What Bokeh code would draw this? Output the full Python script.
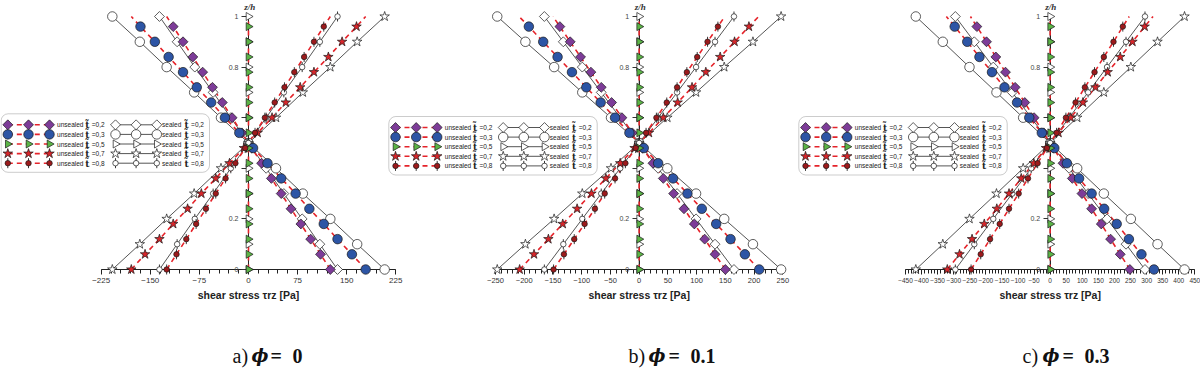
import math
from bokeh.plotting import figure
from bokeh.models import (Range1d, LinearAxis, SingleIntervalTicker, FixedTicker,
                          BoxAnnotation)
from bokeh.embed import file_html
from bokeh.resources import INLINE
from bokeh.core.properties import value

# ---------------- data ----------------
T_LABELS = ["0,2", "0,3", "0,5", "0,7", "0,8"]
Z_UNSEALED = [0.00, 0.06, 0.12, 0.18, 0.24, 0.30, 0.36, 0.42, 0.48, 0.54,
              0.60, 0.66, 0.72, 0.78, 0.84, 0.90, 0.96]
Z_SEALED = [0.0, 0.1, 0.2, 0.3, 0.4, 0.5, 0.6, 0.7, 0.8, 0.9, 1.0]

# phi = 0
A_U02 = [125, 110, 95, 80, 65, 50, 35, 20, 5, -10, -25, -40, -55, -70, -85, -100, -115]
A_U03 = [179, 158, 136, 115, 93, 72, 50, 29, 7, -14, -36, -57, -79, -100, -122, -143, -165]
A_U05 = [0, 0, 0, 0, 0, 0, 0, 0, 0, 0, 0, 0, 0, 0, 0, 0, 0]
A_U07 = [-179, -158, -136, -115, -93, -72, -50, -29, -7, 14, 36, 57, 79, 100, 122, 143, 165]
A_U08 = [-125, -110, -95, -80, -65, -50, -35, -20, -5, 10, 25, 40, 55, 70, 85, 100, 115]
A_UTOP = [-125, -179, 0, 179, 125]          # dashed lines at z/h = 1
A_S02 = [136, 109, 82, 54, 27, 0, -27, -54, -82, -109, -136]
A_S03 = [208, 166, 125, 83, 42, 0, -42, -83, -125, -166, -208]
A_S05 = [0, 0, 0, 0, 0, 0, 0, 0, 0, 0, 0]
A_S07 = [-208, -166, -125, -83, -42, 0, 42, 83, 125, 166, 208]
A_S08 = [-136, -109, -82, -54, -27, 0, 27, 54, 82, 109, 136]

# phi = 0.1
B_U02 = [150, 132, 114, 96, 78, 60, 42, 24, 6, -12, -30, -48, -66, -84, -102, -120, -138]
B_U03 = [209, 184, 159, 134, 109, 84, 59, 33, 8, -17, -42, -67, -92, -117, -142, -167, -192]
B_U05 = [0, 0, 0, 0, 0, 0, 0, 0, 0, 0, 0, 0, 0, 0, 0, 0, 0]
B_U07 = [-208, -183, -158, -133, -108, -83, -58, -33, -8, 17, 42, 67, 92, 116, 141, 166, 191]
B_U08 = [-149, -131, -113, -95, -77, -60, -42, -24, -6, 12, 30, 48, 66, 83, 101, 119, 137]
B_UTOP = [-150, -209, 0, 208, 149]
B_S02 = [165, 132, 99, 66, 33, 0, -33, -66, -99, -132, -165]
B_S03 = [247, 198, 148, 99, 49, 0, -49, -99, -148, -198, -247]
B_S05 = [0, 0, 0, 0, 0, 0, 0, 0, 0, 0, 0]
B_S07 = [-247, -198, -148, -99, -49, 0, 49, 99, 148, 198, 247]
B_S08 = [-165, -132, -99, -66, -33, 0, 33, 66, 99, 132, 165]

# phi = 0.3
C_U02 = [248, 218, 188, 159, 129, 99, 69, 40, 10, -20, -50, -79, -109, -139, -169, -198, -228]
C_U03 = [323, 284, 245, 207, 168, 129, 90, 52, 13, -26, -65, -103, -142, -181, -220, -258, -297]
C_U05 = [0, 0, 0, 0, 0, 0, 0, 0, 0, 0, 0, 0, 0, 0, 0, 0, 0]
C_U07 = [-320, -282, -243, -205, -166, -128, -90, -51, -13, 26, 64, 102, 141, 179, 218, 256, 294]
C_U08 = [-246, -216, -187, -157, -128, -98, -69, -39, -10, 20, 49, 79, 108, 138, 167, 197, 226]
C_UTOP = [-248, -323, 0, 320, 246]
C_S02 = [295, 236, 177, 118, 59, 0, -59, -118, -177, -236, -295]
C_S03 = [418, 334, 251, 167, 84, 0, -84, -167, -251, -334, -418]
C_S05 = [0, 0, 0, 0, 0, 0, 0, 0, 0, 0, 0]
C_S07 = [-418, -334, -251, -167, -84, 0, 84, 167, 251, 334, 418]
C_S08 = [-295, -236, -177, -118, -59, 0, 59, 118, 177, 236, 295]

X_BOUNDS = [(-225, 225), (-250, 250), (-450, 450)]
X_TICK_STEP = [75, 50, 50]
CAPTION_LETTERS = ["a)", "b)", "c)"]
CAPTION_VALUES = ["0", "0.1", "0.3"]
X_TITLE = "shear stress \u03c4rz [Pa]"
Y_TITLE = "z/h"

# ---------------- layout / styles ----------------
W, H = 1200, 371
RED = "#e5232a"
SEAL_LINE = "#2a2a2a"
MARKERS = [
    dict(marker="square", size=7, color="#7d3c98", angle=math.pi / 4),
    dict(marker="circle", size=9.5, color="#2d55a5", angle=0.0),
    dict(marker="triangle", size=8, color="#5bb446", angle=-math.pi / 2),
    dict(marker="star", size=10, color="#d7262b", angle=0.0),
    dict(marker="circle", size=5.5, color="#9c1a1c", angle=0.0),
]
TICK_FONT = ["8px", "7.5px", "6.5px"]

p = figure(width=W, height=H, output_backend="svg", toolbar_location=None,
           x_axis_type=None, y_axis_type=None,
           x_range=Range1d(0, W), y_range=Range1d(-0.4032, 1.0632),
           min_border=0, outline_line_color=None, background_fill_color="white")
p.extra_x_ranges = {"a": Range1d(-378.8, 1454.2),
                    "b": Range1d(-1111.5, 976.9),
                    "c": Range1d(-3265.5, 467.7)}
p.extra_y_ranges = {"py": Range1d(H, 0)}

PANELS = [
    ("a", [A_U02, A_U03, A_U05, A_U07, A_U08], A_UTOP, [A_S02, A_S03, A_S05, A_S07, A_S08]),
    ("b", [B_U02, B_U03, B_U05, B_U07, B_U08], B_UTOP, [B_S02, B_S03, B_S05, B_S07, B_S08]),
    ("c", [C_U02, C_U03, C_U05, C_U07, C_U08], C_UTOP, [C_S02, C_S03, C_S05, C_S07, C_S08]),
]


def draw_marker(x, y, k, sealed, xr="default", yr="default"):
    m = MARKERS[k]
    fill = "white" if sealed else m["color"]
    if k == 4:
        p.scatter(x, y, marker="dash", size=10, angle=math.pi / 2, line_color="#222",
                  line_width=0.9, x_range_name=xr, y_range_name=yr)
    p.scatter(x, y, marker=m["marker"], size=m["size"], angle=m["angle"],
              fill_color=fill, line_color="#1a1a1a", line_width=0.7,
              x_range_name=xr, y_range_name=yr)


for idx, (rn, uns, utop, sea) in enumerate(PANELS):
    # axes at x = 0 and z = 0
    xa = LinearAxis(x_range_name=rn, fixed_location=0, bounds=X_BOUNDS[idx],
                    ticker=SingleIntervalTicker(interval=X_TICK_STEP[idx], num_minor_ticks=5))
    xa.axis_line_color = "#222"
    xa.major_tick_out = 5
    xa.major_tick_in = 0
    xa.minor_tick_out = 4
    xa.minor_tick_in = 0
    xa.major_tick_line_color = "#222"
    xa.minor_tick_line_color = "#222"
    xa.major_label_text_font = "Liberation Sans"
    xa.major_label_text_font_size = TICK_FONT[idx]
    xa.major_label_text_color = "#333"
    xa.major_label_standoff = 4
    xa.level = "underlay"
    p.add_layout(xa, "below")

    ya = LinearAxis(x_range_name=rn, fixed_location=0, bounds=(0, 1),
                    ticker=FixedTicker(ticks=[0, 0.2, 0.4, 0.6, 0.8, 1.0]))
    ya.major_label_overrides = {0: "0", 0.2: "0.2", 0.4: "", 0.6: "", 0.8: "0.8", 1: "1"}
    ya.axis_line_color = "#222"
    ya.major_tick_out = 7
    ya.major_tick_in = 0
    ya.major_tick_line_color = "#333"
    ya.minor_tick_line_color = None
    ya.major_label_text_font = "Liberation Sans"
    ya.major_label_text_font_size = "7px"
    ya.major_label_text_color = "#444"
    ya.major_label_standoff = 3
    ya.level = "underlay"
    p.add_layout(ya, "left")

    # lines
    for k in range(5):
        p.line(sea[k], Z_SEALED, x_range_name=rn, line_color=SEAL_LINE, line_width=0.8)
    for k in range(5):
        p.line(uns[k] + [utop[k]], Z_UNSEALED + [1.0], x_range_name=rn,
               line_color=RED, line_width=1.6, line_dash="5 4")
    # markers
    for k in range(5):
        draw_marker(sea[k], Z_SEALED, k, True, xr=rn)
    for k in range(5):
        draw_marker(uns[k], Z_UNSEALED, k, False, xr=rn)

    # axis titles
    p.text(x=[0], y=[294], text=[X_TITLE], x_range_name=rn, y_range_name="py",
           text_font=value("Liberation Sans"), text_font_style="bold",
           text_font_size="10.5px", text_align="center", text_baseline="middle",
           text_color="#222")
    p.text(x=[2], y=[1], text=[Y_TITLE], x_range_name=rn, y_range_name="py",
           text_font=value("Liberation Serif"), text_font_style="bold italic",
           text_font_size="9px", text_align="center", text_baseline="top",
           text_color="#333")

# ---------------- legends (pixel coordinates) ----------------
LEG_ORIGINS = [(0.6, 113.3), (388.3, 116.0), (798.3, 116.0)]
ROW_DY = [11.0, 20.6, 30.2, 39.8, 49.4]
U_DX = [6.7, 27.4, 48.4]
S_DX = [114.4, 135.0, 155.7]

for lx, ly in LEG_ORIGINS:
    p.add_layout(BoxAnnotation(left=lx, right=lx + 208.4, top=ly, bottom=ly + 58.5,
                               y_range_name="py", fill_color="white", fill_alpha=1.0,
                               line_color="#555", line_width=1.0, border_radius=7,
                               level="underlay"))
    for k in range(5):
        yy = ly + ROW_DY[k]
        p.line([lx + U_DX[0], lx + U_DX[2]], [yy, yy], y_range_name="py",
               line_color=RED, line_width=1.6, line_dash="5 4")
        p.line([lx + S_DX[0], lx + S_DX[2]], [yy, yy], y_range_name="py",
               line_color=SEAL_LINE, line_width=0.8)
        draw_marker([lx + d for d in U_DX], [yy] * 3, k, False, yr="py")
        draw_marker([lx + d for d in S_DX], [yy] * 3, k, True, yr="py")
        for x0, word in ((lx + 56.0, "unsealed"), (lx + 161.0, "sealed")):
            p.text(x=[x0], y=[yy], text=[word], y_range_name="py",
                   text_font=value("Liberation Sans"), text_font_size="6.5px",
                   text_align="left", text_baseline="middle", text_color="#222")
        for x0 in (lx + 86.2, lx + 185.4):
            p.text(x=[x0], y=[yy + 0.5], text=["t\u0303"], y_range_name="py",
                   text_font=value("DejaVu Serif"), text_font_style="bold",
                   text_font_size="9px", text_align="center", text_baseline="middle",
                   text_color="#222")
        for x0 in (lx + 90.7, lx + 190.0):
            p.text(x=[x0], y=[yy], text=["=" + T_LABELS[k]], y_range_name="py",
                   text_font=value("Liberation Sans"), text_font_size="6.5px",
                   text_align="left", text_baseline="middle", text_color="#222")

# ---------------- captions ----------------
CAP_X = [(232, 251, 270, 292), (628, 648, 668, 690), (1022, 1042, 1062, 1084)]
for i, (x1, x2, x3, x4) in enumerate(CAP_X):
    yy = 355
    p.text(x=[x1], y=[yy], text=[CAPTION_LETTERS[i]], y_range_name="py",
           text_font=value("Liberation Serif"), text_font_size="20px",
           text_align="left", text_baseline="middle", text_color="#111")
    p.text(x=[x2], y=[yy], text=["\u03d5"], y_range_name="py",
           text_font=value("DejaVu Serif"), text_font_style="bold italic",
           text_font_size="18px", text_align="left", text_baseline="middle",
           text_color="#111")
    p.text(x=[x3], y=[yy], text=["="], y_range_name="py",
           text_font=value("Liberation Serif"), text_font_style="bold",
           text_font_size="20px", text_align="left", text_baseline="middle",
           text_color="#111")
    p.text(x=[x4], y=[yy], text=[CAPTION_VALUES[i]], y_range_name="py",
           text_font=value("Liberation Serif"), text_font_style="bold",
           text_font_size="20px", text_align="left", text_baseline="middle",
           text_color="#111")

open("out.html", "w").write(file_html(p, INLINE))
